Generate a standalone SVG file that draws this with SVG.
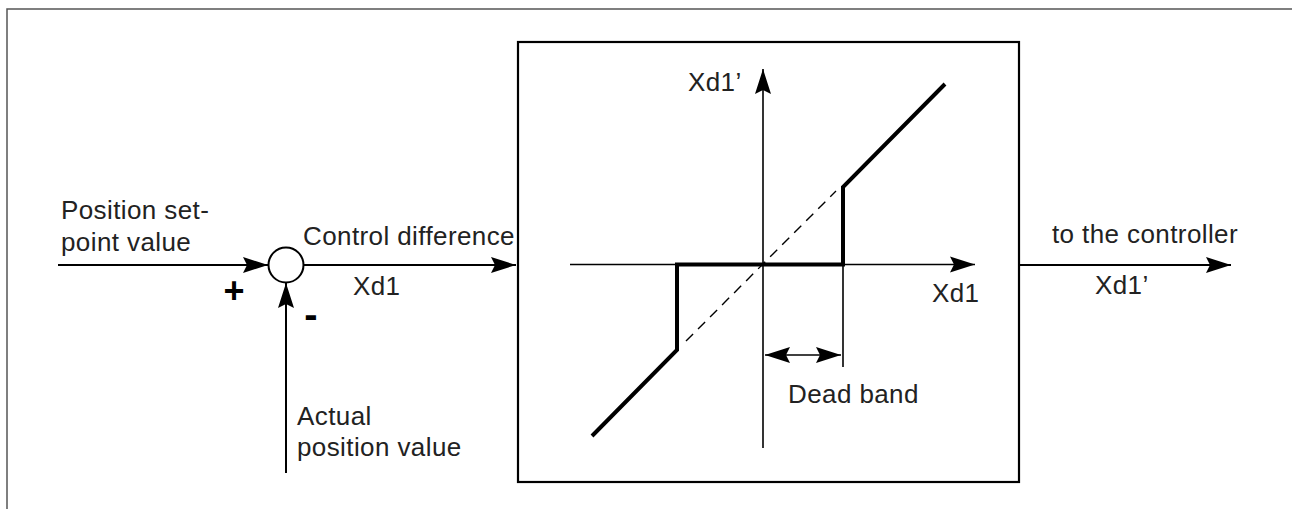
<svg xmlns="http://www.w3.org/2000/svg" width="1292" height="509" viewBox="0 0 1292 509">
<style>
text{font-family:"Liberation Sans",Arial,sans-serif;font-size:26px;fill:#222;letter-spacing:0.4px}
.sign{font-weight:bold;fill:#000}
.ln{stroke:#000;stroke-width:2;fill:none}
.thin{stroke:#000;stroke-width:1.6;fill:none}
.thick{stroke:#000;stroke-width:4;fill:none;stroke-linejoin:miter;stroke-linecap:butt}
.dash{stroke:#000;stroke-width:1.4;fill:none;stroke-dasharray:10 7}
</style>
<defs>
<marker id="ah" markerUnits="userSpaceOnUse" markerWidth="26" markerHeight="18" refX="25" refY="9" orient="auto">
<path d="M25,9 L0,1 L4,9 L0,17 Z" fill="#000"/>
</marker>
<marker id="ahs" markerUnits="userSpaceOnUse" markerWidth="26" markerHeight="18" refX="25" refY="9" orient="auto-start-reverse">
<path d="M25,9 L0,1 L4,9 L0,17 Z" fill="#000"/>
</marker>
</defs>
<path id="frame" d="M7,509 V9 H1292" fill="none" stroke="#555" stroke-width="1.5"/>
<g id="connectors">
<line class="ln" x1="58" y1="265" x2="268" y2="265" marker-end="url(#ah)"/>
<line class="ln" x1="286" y1="473" x2="286" y2="283" marker-end="url(#ah)"/>
<line class="ln" x1="304" y1="265" x2="516" y2="265" marker-end="url(#ah)"/>
<line class="ln" x1="1019" y1="265" x2="1231" y2="265" marker-end="url(#ah)"/>
</g>
<g id="sum">
<circle cx="286" cy="265" r="17.5" fill="#fff" stroke="#000" stroke-width="2"/>
<text class="sign" x="234" y="303" text-anchor="middle" style="font-size:36px;letter-spacing:0">+</text>
<text class="sign" x="311" y="328" text-anchor="middle" style="font-size:40px;letter-spacing:0">-</text>
</g>
<g id="labels-left">
<text x="61" y="219">Position set-</text>
<text x="61" y="251">point value</text>
<text x="303" y="245">Control difference</text>
<text x="353" y="295">Xd1</text>
<text x="297" y="425">Actual</text>
<text x="297" y="456">position value</text>
</g>
<g id="deadband-block">
<rect x="518" y="42" width="501" height="440" fill="none" stroke="#000" stroke-width="2.2"/>
<line class="thin" x1="763" y1="448" x2="763" y2="69" marker-end="url(#ah)"/>
<line class="thin" x1="570" y1="264.5" x2="975" y2="264.5" marker-end="url(#ah)"/>
<line class="dash" x1="686" y1="341" x2="836" y2="191"/>
<polyline class="thick" points="592,436 677,350 677,264.5 843,264.5 843,187 945,84"/>
<line class="thin" x1="843" y1="264" x2="843" y2="367"/>
<line class="thin" x1="765" y1="355" x2="841" y2="355" marker-start="url(#ahs)" marker-end="url(#ah)"/>
<text x="688" y="91">Xd1’</text>
<text x="932" y="302">Xd1</text>
<text x="788" y="403">Dead band</text>
</g>
<g id="labels-right">
<text x="1052" y="243">to the controller</text>
<text x="1095" y="294">Xd1’</text>
</g>
</svg>
